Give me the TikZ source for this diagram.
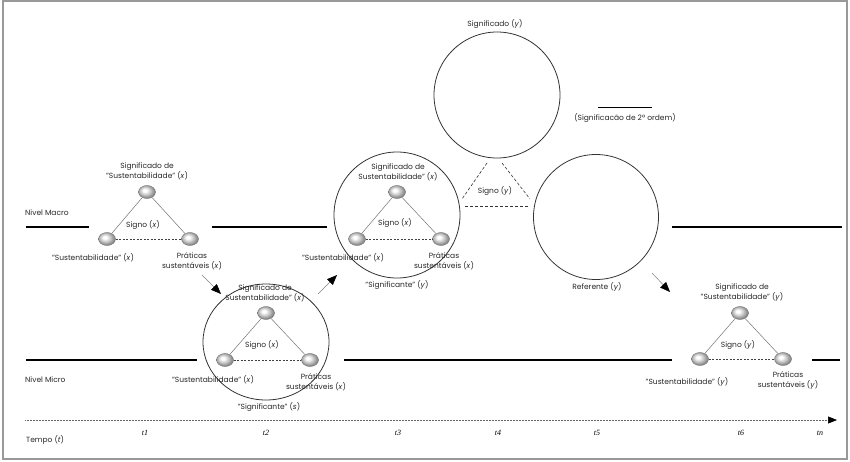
\documentclass[tikz,border=0pt]{standalone}
\usepackage{fontspec}
\setmainfont{Poppins}
\newfontfamily\tfont{Liberation Serif}
\usetikzlibrary{arrows.meta,shapes.geometric}
\pgfdeclareradialshading{lightball}{\pgfpoint{-7bp}{7bp}}{color(0bp)=(white); color(5bp)=(white); color(15bp)=(black!22); color(23bp)=(black!42); color(32bp)=(black!55); color(50bp)=(black!55)}
\begin{document}
\begin{tikzpicture}[x=1pt,y=-1pt,
  lbl/.style={font=\fontsize{7.5}{10}\selectfont, align=center, inner sep=0pt, text=black!85},
  sball/.style={ellipse, minimum width=17pt, minimum height=13pt, inner sep=0pt, draw=black!55, line width=0.4pt, shading=lightball},
  edge/.style={draw=black!55, line width=0.5pt},
  dedge/.style={draw=black!75, line width=0.6pt, dash pattern=on 2pt off 1.5pt},
  bigc/.style={draw=black!80, line width=0.8pt},
  level/.style={line width=2.6pt, black},
  flowarr/.style={draw=black!50, line width=0.5pt, -{Triangle[length=10pt,width=8pt,black]}},
  tlbl/.style={font=\tfont\itshape\fontsize{8}{9}\selectfont, inner sep=0pt}
]
\useasboundingbox (0,0) rectangle (850,461);
\draw[black!40, line width=1.6pt] (3,1) rectangle (847,459);

% levels
\node[lbl, anchor=west] (macro) at (25,213) {Nivel Macro};
\node[lbl, anchor=west] (micro) at (25,380) {Nivel Micro};
\coordinate (ma1) at (26,227); \coordinate (ma2) at (89,227);
\coordinate (ma3) at (212,227); \coordinate (ma4) at (327,227);
\coordinate (ma5) at (672,227); \coordinate (ma6) at (842,227);
\draw[level] (ma1) -- (ma2); \draw[level] (ma3) -- (ma4); \draw[level] (ma5) -- (ma6);
\coordinate (mi1) at (26,360); \coordinate (mi2) at (197,360);
\coordinate (mi3) at (344,360); \coordinate (mi4) at (672,360);
\coordinate (mi5) at (812,360); \coordinate (mi6) at (840,360);
\draw[level] (mi1) -- (mi2); \draw[level] (mi3) -- (mi4); \draw[level] (mi5) -- (mi6);

% big circles
\node[bigc, ellipse, minimum width=126pt, minimum height=116pt, inner sep=0pt] (c2) at (266,342) {};
\node[bigc, circle, minimum size=126pt, inner sep=0pt] (c3) at (397,215) {};
\node[bigc, circle, minimum size=126pt, inner sep=0pt] (cs) at (497,95) {};
\node[bigc, circle, minimum size=125pt, inner sep=0pt] (cr) at (596,217) {};
\node[lbl] (lcs) at (495,24) {Significado (\textit{y})};
\node[lbl] (lcr) at (597,287) {Referente (\textit{y})};

% signo y
\coordinate (sy1) at (487,163); \coordinate (sy2) at (462,199);
\coordinate (sy3) at (502,163); \coordinate (sy4) at (530,199);
\coordinate (sy5) at (465,206); \coordinate (sy6) at (529,206);
\draw[black!80, line width=0.6pt, dash pattern=on 3pt off 2pt] (sy1) -- (sy2);
\draw[black!80, line width=0.6pt, dash pattern=on 3pt off 2pt] (sy3) -- (sy4);
\draw[black!80, line width=0.6pt, dash pattern=on 3pt off 2pt] (sy5) -- (sy6);
\node[lbl] (lsy) at (495,191) {Signo (\textit{y})};

% legend
\coordinate (lg1) at (598,107); \coordinate (lg2) at (652,107);
\draw[black, line width=1pt] (lg1) -- (lg2);
\node[lbl] (lgt) at (625,118) {(Significacão de 2º ordem)};

% triangle 1
\node[sball] (a1) at (147,192) {};
\node[sball] (b1) at (107,239) {};
\node[sball] (c1) at (190,239) {};
\draw[edge] (a1) -- (b1); \draw[edge] (a1) -- (c1); \draw[dedge] (b1) -- (c1);
\node[lbl] (la1) at (147,171) {Significado de\\"Sustentabilidade" (\textit{x})};
\node[lbl] (ls1) at (143,225) {Signo (\textit{x})};
\node[lbl] (lb1) at (93,258) {"Sustentabilidade" (\textit{x})};
\node[lbl] (lc1) at (192,261) {Práticas\\sustentáveis (\textit{x})};

% triangle 2
\node[sball] (a2) at (266,313) {};
\node[sball] (b2) at (225,360) {};
\node[sball] (c2b) at (310,360) {};
\draw[edge] (a2) -- (b2); \draw[edge] (a2) -- (c2b); \draw[dedge] (b2) -- (c2b);
\node[lbl] (la2) at (265,293) {Significado de\\Sustentabilidade" (\textit{x})};
\node[lbl] (ls2) at (262,345) {Signo (\textit{x})};
\node[lbl] (lb2) at (213,380) {"Sustentabilidade" (\textit{x})};
\node[lbl] (lc2) at (316,382) {Práticas\\sustentáveis (\textit{x})};
\node[lbl] (ld2) at (269,407) {"Significante" (\textit{s})};

% triangle 3
\node[sball] (a3) at (397,192) {};
\node[sball] (b3) at (357,239) {};
\node[sball] (c3b) at (441,239) {};
\draw[edge] (a3) -- (b3); \draw[edge] (a3) -- (c3b); \draw[dedge] (b3) -- (c3b);
\node[lbl] (la3) at (398,172) {Significado de\\Sustentabilidade" (\textit{x})};
\node[lbl] (ls3) at (395,223) {Signo (\textit{x})};
\node[lbl] (lb3) at (343,258) {"Sustentabilidade" (\textit{x})};
\node[lbl] (lc3) at (444,261) {Práticas\\sustentáveis (\textit{x})};
\node[lbl] (ld3) at (397,285) {"Significante" (\textit{y})};

% triangle 6
\node[sball] (a6) at (740,313) {};
\node[sball] (b6) at (700,359) {};
\node[sball] (c6) at (783,359) {};
\draw[edge] (a6) -- (b6); \draw[edge] (a6) -- (c6); \draw[dedge] (b6) -- (c6);
\node[lbl] (la6) at (742,293) {Significado de\\"Sustentabilidade" (\textit{y})};
\node[lbl] (ls6) at (738,345) {Signo (\textit{y})};
\node[lbl] (lb6) at (687,382) {"Sustentabilidade" (\textit{y})};
\node[lbl] (lc6) at (788,381) {Práticas\\sustentáveis (\textit{y})};

% flow arrows
\coordinate (f1a) at (202,275); \coordinate (f1b) at (221,294);
\coordinate (f2a) at (318,294); \coordinate (f2b) at (337,275);
\coordinate (f3a) at (652,273); \coordinate (f3b) at (670,292);
\draw[flowarr] (f1a) -- (f1b);
\draw[flowarr] (f2a) -- (f2b);
\draw[flowarr] (f3a) -- (f3b);

% time axis
\coordinate (ax1) at (25,420); \coordinate (ax2) at (837,420);
\draw[black!60, line width=0.6pt, dash pattern=on 0.6pt off 0.9pt, -{Triangle[length=9pt,width=7pt,black]}] (ax1) -- (ax2);
\node[tlbl] (t1) at (145,433) {t1};
\node[tlbl] (t2) at (266,433) {t2};
\node[tlbl] (t3) at (398,433) {t3};
\node[tlbl] (t4) at (498,433) {t4};
\node[tlbl] (t5) at (597,433) {t5};
\node[tlbl] (t6) at (741,433) {t6};
\node[tlbl] (tn) at (820,433) {tn};
\node[lbl, anchor=west] (tempo) at (26,440) {Tempo (\textit{t})};
\end{tikzpicture}
\end{document}
